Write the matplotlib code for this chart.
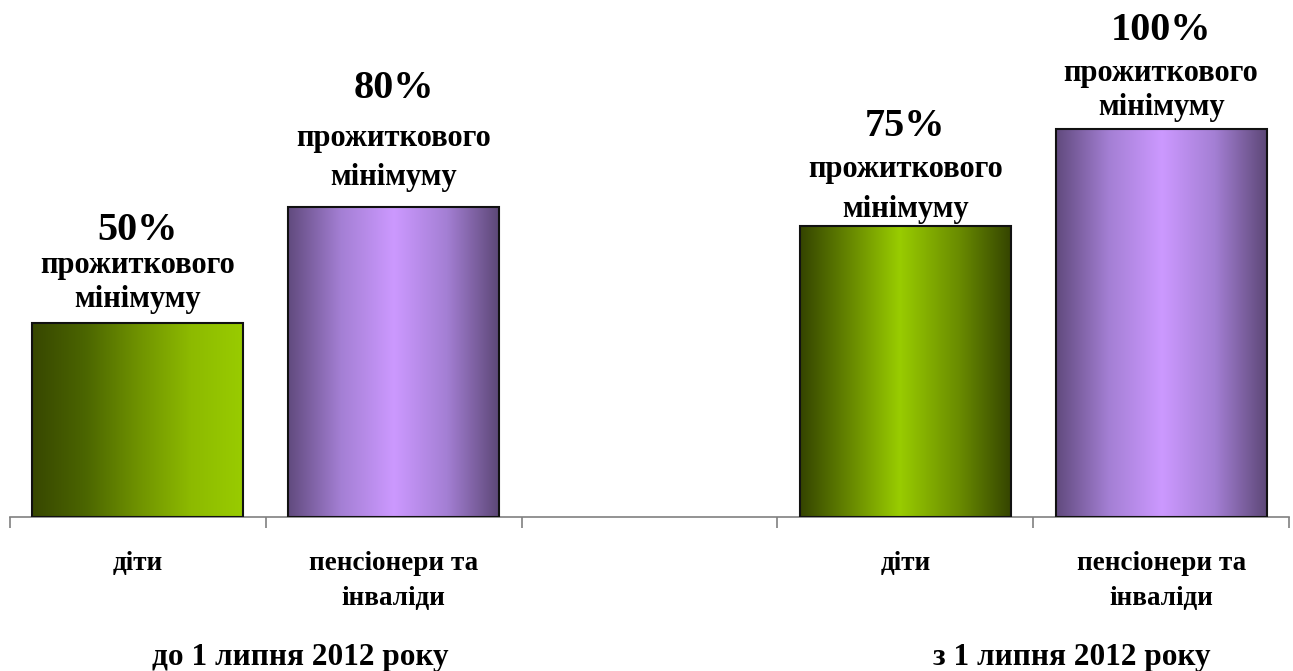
import numpy as np
import matplotlib
matplotlib.use("Agg")
import matplotlib.pyplot as plt
from matplotlib.colors import LinearSegmentedColormap

# ---- data ----
categories = ["діти", "пенсіонери та\nінваліди", "", "діти", "пенсіонери та\nінваліди"]
values = [50, 80, None, 75, 100]
value_labels = ["50%", "80%", None, "75%", "100%"]
sub_label_1 = "прожиткового"
sub_label_2 = "мінімуму"
group_labels = ["до 1 липня 2012 року", "з 1 липня 2012 року"]

# ---- style ----
FONT = "Liberation Serif"
plt.rcParams["font.family"] = [FONT, "DejaVu Serif"]
plt.rcParams["font.weight"] = "bold"

W, H, DPI = 1293, 671, 100
fig = plt.figure(figsize=(W / DPI, H / DPI), dpi=DPI)
ax_left, ax_right = 10 / W, 1289 / W
base_y = 517
px_per_unit = 3.88
ylim_top = 120
ax_h = ylim_top * px_per_unit
ax = fig.add_axes([ax_left, (H - base_y) / H, ax_right - ax_left, ax_h / H])

green_ramp = LinearSegmentedColormap.from_list(
    "g1", ["#374700", "#4b6500", "#6f9200", "#8dba00", "#99cc00"])
green_mirror = LinearSegmentedColormap.from_list(
    "g2", [(0, "#344400"), (0.25, "#6a8c00"), (0.47, "#99cc00"), (0.75, "#6a8c00"), (1, "#344400")])
purple_mirror = LinearSegmentedColormap.from_list(
    "p", [(0, "#614a7e"), (0.25, "#a47fd4"), (0.5, "#cc99ff"), (0.75, "#a47fd4"), (1, "#5c4776")])
bar_cmaps = [green_ramp, purple_mirror, None, green_mirror, purple_mirror]

x = np.arange(len(categories))
bar_w = 0.825
heights = [v if v is not None else 0 for v in values]
bars = ax.bar(x, heights, width=bar_w, facecolor="none", edgecolor="#111111",
              linewidth=1.5, zorder=3)

grad = np.linspace(0, 1, 256)[np.newaxis, :]
for b, cmap, v in zip(bars, bar_cmaps, values):
    if v is None:
        b.set_visible(False)
        continue
    x0, w, h = b.get_x(), b.get_width(), b.get_height()
    im = ax.imshow(grad, cmap=cmap, extent=[x0, x0 + w, 0, h], aspect="auto",
                   zorder=2, interpolation="bicubic")
    im.set_clip_path(b)

ax.set_xlim(-0.5, len(categories) - 0.5)
ax.set_ylim(0, ylim_top)

# value labels: offsets (px above bar top) for the three lines
label_offsets = [(-93, -57, -23), (-118, -68, -29), None, (-99, -56, -16), (-99, -55, -21)]
big_fs, small_fs = 29, 22
for xi, v, lab, offs in zip(x, values, value_labels, label_offsets):
    if v is None:
        continue
    for text, off, fs in zip([lab, sub_label_1, sub_label_2], offs, [big_fs, small_fs, small_fs]):
        ax.annotate(text, (xi, v), xytext=(0, -off * 72 / DPI), textcoords="offset points",
                    ha="center", va="center", fontsize=fs, fontweight="bold", color="black",
                    annotation_clip=False)

# axes styling
for s in ["top", "right", "left"]:
    ax.spines[s].set_visible(False)
ax.spines["bottom"].set_color("#808080")
ax.spines["bottom"].set_linewidth(1.2)
ax.set_yticks([])
ax.set_xticks(x, categories)
ax.tick_params(axis="x", which="major", length=0, pad=24.5, labelsize=19.5)
for t in ax.get_xticklabels():
    t.set_fontweight("bold")
    t.set_linespacing(1.52)
ax.set_xticks(np.arange(-0.5, len(categories), 1.0), minor=True)
ax.tick_params(axis="x", which="minor", length=8, width=1.2, color="#808080", direction="out")

# group labels
fig.text(300 / W, 1 - 658 / H, group_labels[0], ha="center", va="center",
         fontsize=22.5, fontweight="bold")
fig.text(1072 / W, 1 - 658 / H, group_labels[1], ha="center", va="center",
         fontsize=22.5, fontweight="bold")

fig.savefig("out.png", dpi=DPI, facecolor="white")
